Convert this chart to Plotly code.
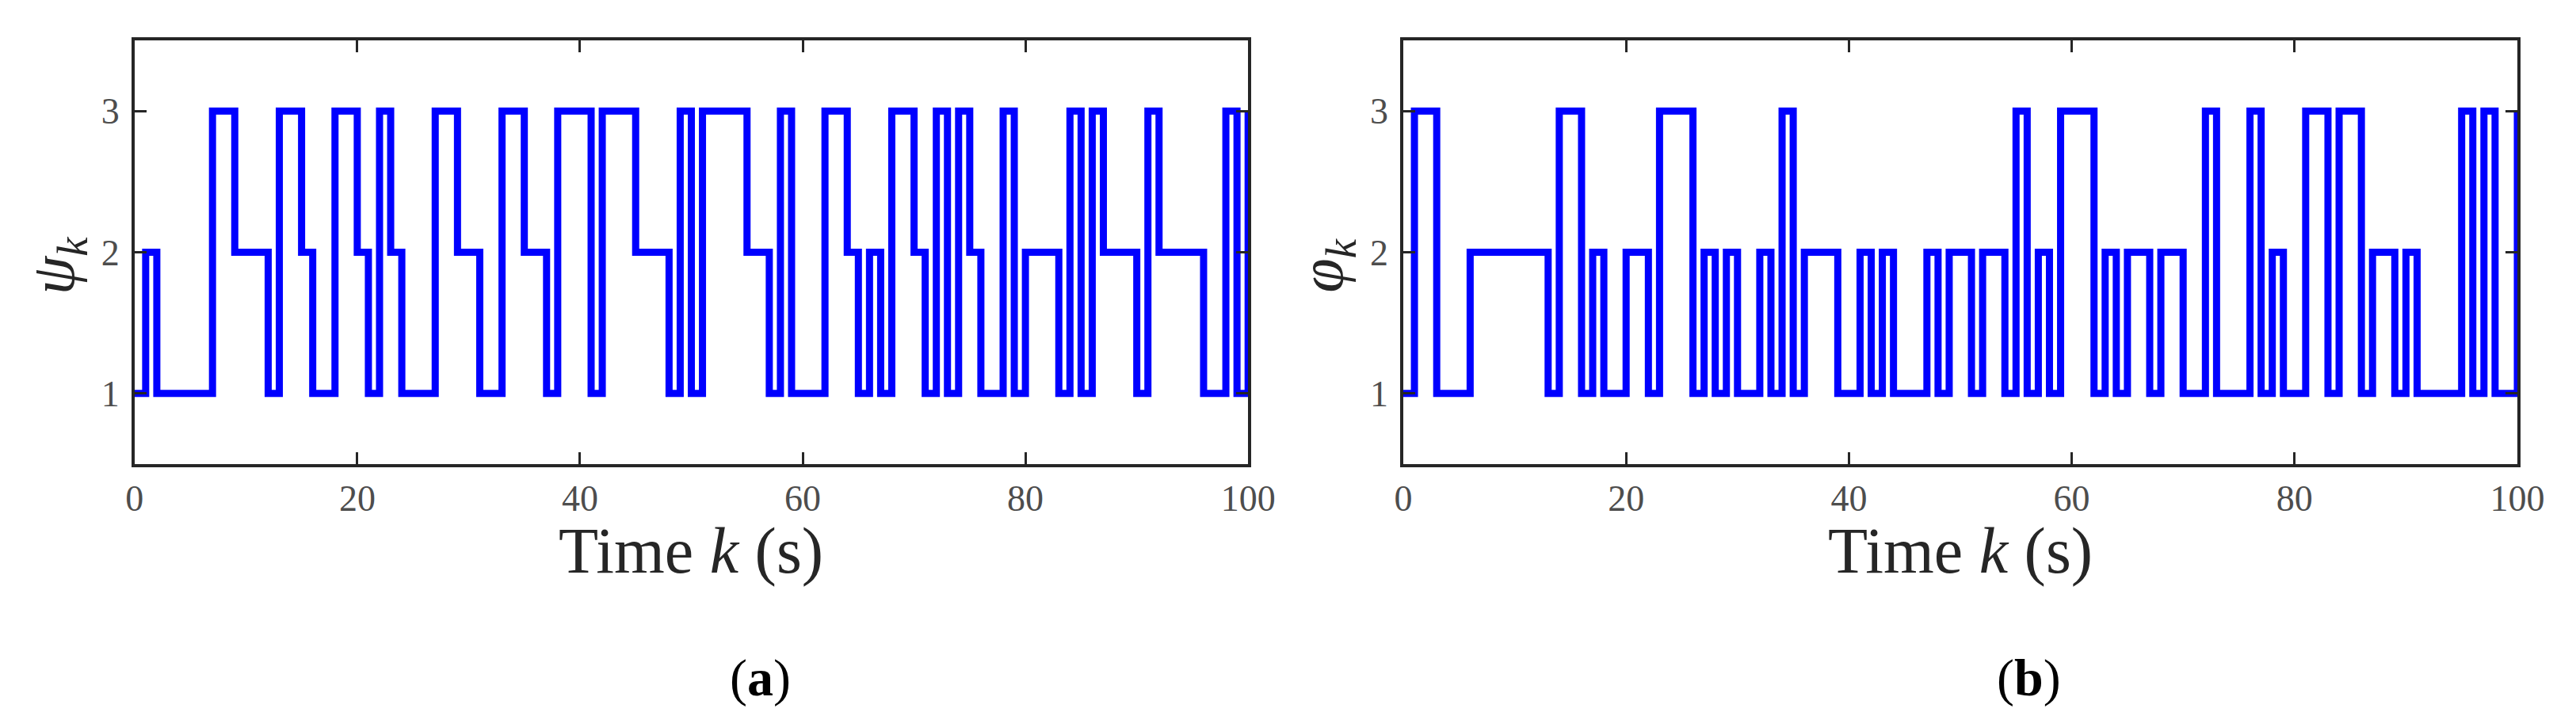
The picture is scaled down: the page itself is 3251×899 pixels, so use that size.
import plotly.graph_objects as go

# ---- data ----
time_k = list(range(0, 101))
psi_k = [1, 2, 1, 1, 1, 1, 1, 3, 3, 2,
         2, 2, 1, 3, 3, 2, 1, 1, 3, 3,
         2, 1, 3, 2, 1, 1, 1, 3, 3, 2,
         2, 1, 1, 3, 3, 2, 2, 1, 3, 3,
         3, 1, 3, 3, 3, 2, 2, 2, 1, 3,
         1, 3, 3, 3, 3, 2, 2, 1, 3, 1,
         1, 1, 3, 3, 2, 1, 2, 1, 3, 3,
         2, 1, 3, 1, 3, 2, 1, 1, 3, 1,
         2, 2, 2, 1, 3, 1, 3, 2, 2, 2,
         1, 3, 2, 2, 2, 2, 1, 1, 3, 1,
         3]
phi_k = [1, 3, 3, 1, 1, 1, 2, 2, 2, 2,
         2, 2, 2, 1, 3, 3, 1, 2, 1, 1,
         2, 2, 1, 3, 3, 3, 1, 2, 1, 2,
         1, 1, 2, 1, 3, 1, 2, 2, 2, 1,
         1, 2, 1, 2, 1, 1, 1, 2, 1, 2,
         2, 1, 2, 2, 1, 3, 1, 2, 1, 3,
         3, 3, 1, 2, 1, 2, 2, 1, 2, 2,
         1, 1, 3, 1, 1, 1, 3, 1, 2, 1,
         1, 3, 3, 1, 3, 3, 1, 2, 2, 1,
         2, 1, 1, 1, 1, 3, 1, 3, 1, 1,
         3]
x_ticks = [0, 20, 40, 60, 80, 100]
y_ticks = [1, 2, 3]
panel_labels = ["(<b>a</b>)", "(<b>b</b>)"]
y_titles = ["<i>ψ</i><sub><i>k</i></sub>", "<i>φ</i><sub><i>k</i></sub>"]
x_title = "Time <i>k</i> (s)"

W, H = 3251, 899
FONT = "Liberation Serif, Times New Roman, serif"
AX = "#262626"

fig = go.Figure()
fig.add_trace(go.Scatter(x=time_k, y=psi_k, mode="lines", line_shape="hv",
                         line=dict(color="#0000ff", width=9), xaxis="x", yaxis="y",
                         showlegend=False))
fig.add_trace(go.Scatter(x=time_k, y=phi_k, mode="lines", line_shape="hv",
                         line=dict(color="#0000ff", width=9), xaxis="x2", yaxis="y2",
                         showlegend=False))

axis_common = dict(showline=True, mirror="ticks", linecolor=AX, linewidth=3.5,
                   ticks="inside", ticklen=15, tickwidth=3, tickcolor=AX,
                   showgrid=False, zeroline=False,
                   tickfont=dict(family=FONT, size=46, color="#4d4d4d"))

xd = [(152 / W, 1578 / W), (1776.7 / W, 3203.3 / W)]
yd = (1 - 578 / H, 1 - 43 / H)

fig.update_layout(
    width=W, height=H, margin=dict(l=0, r=0, t=0, b=0),
    font=dict(family=FONT, color="#262626"),
    paper_bgcolor="white", plot_bgcolor="white",
    xaxis=dict(domain=list(xd[0]), range=[0, 100], tickvals=x_ticks, anchor="y",
               ticklabelstandoff=0, **axis_common),
    yaxis=dict(domain=list(yd), range=[0.5, 3.5], tickvals=y_ticks, anchor="x",
               ticklabelstandoff=6, **axis_common),
    xaxis2=dict(domain=list(xd[1]), range=[0, 100], tickvals=x_ticks, anchor="y2",
                ticklabelstandoff=0, **axis_common),
    yaxis2=dict(domain=list(yd), range=[0.5, 3.5], tickvals=y_ticks, anchor="x2",
                ticklabelstandoff=6, **axis_common),
)

annotations = []
for i in range(2):
    x0, x1 = xd[i]
    cx = (x0 + x1) / 2
    annotations.append(dict(text=x_title, x=cx, y=1 - 687 / H, xref="paper", yref="paper",
                            showarrow=False, xanchor="center", yanchor="middle",
                            font=dict(family=FONT, size=82, color="#262626")))
    annotations.append(dict(text=y_titles[i], x=x0 - 99 / W, y=1 - 327 / H,
                            xref="paper", yref="paper", textangle=-90,
                            showarrow=False, xanchor="center", yanchor="middle",
                            font=dict(family=FONT, size=78, color="#262626")))
    annotations.append(dict(text=panel_labels[i], x=cx + 88 / W, y=1 - 848 / H,
                            xref="paper", yref="paper", showarrow=False,
                            xanchor="center", yanchor="middle",
                            font=dict(family=FONT, size=66, color="black")))
fig.update_layout(annotations=annotations)

fig.write_html("out.html")
